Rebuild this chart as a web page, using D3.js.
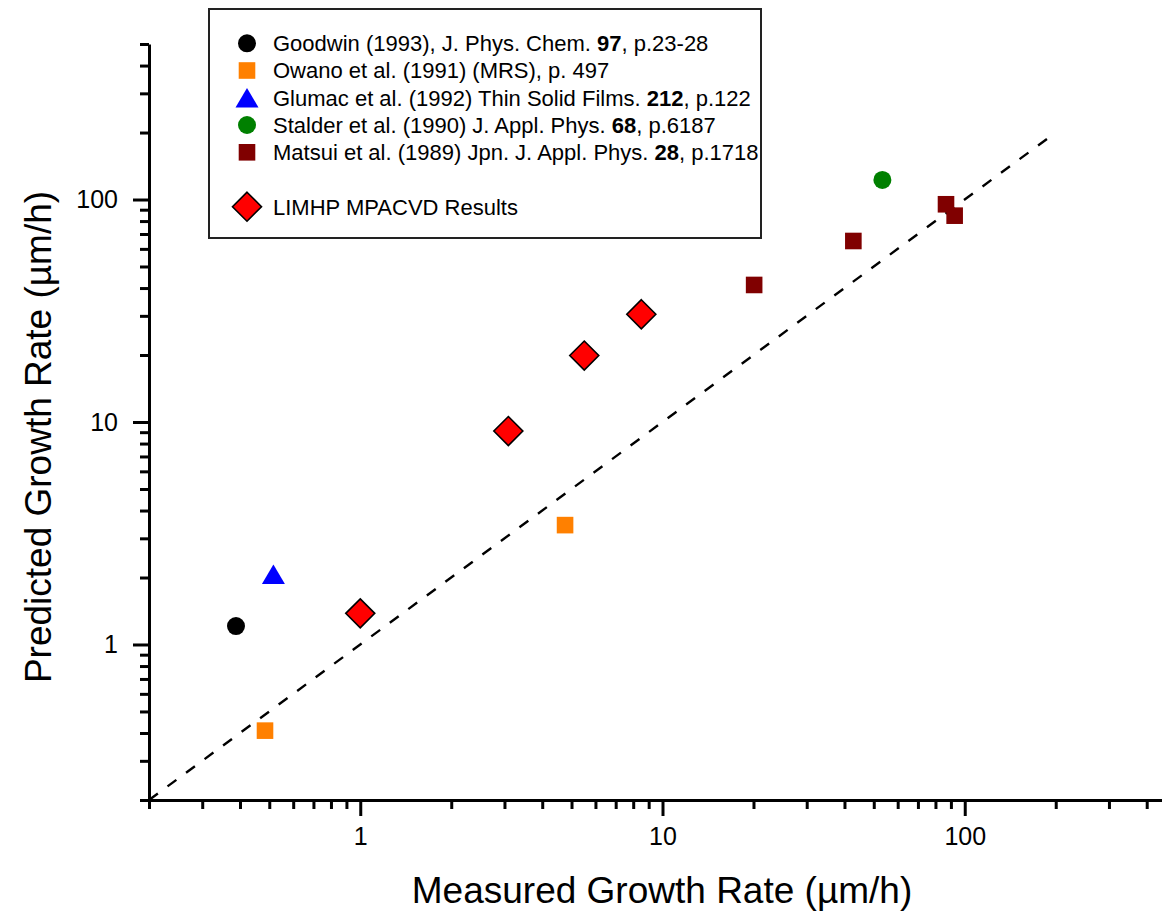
<!DOCTYPE html>
<html>
<head>
<meta charset="utf-8">
<script src="https://cdn.jsdelivr.net/npm/d3@7"></script>
<style>
  html, body { margin: 0; padding: 0; background: #fff; }
  svg { display: block; font-family: "Liberation Sans", Arial, sans-serif; }
</style>
</head>
<body>
<svg id="chart" width="1162" height="918"></svg>
<script>
// Measured vs. predicted diamond growth rates (µm/h)
const goodwinX = [0.388];
const goodwinY = [1.21];
const owanoX = [0.484, 4.76];
const owanoY = [0.41, 3.44];
const glumacX = [0.516];
const glumacY = [2.07];
const stalderX = [53.4];
const stalderY = [122.4];
const matsuiX = [20.1, 42.8, 86.7, 92.6];
const matsuiY = [41.3, 65.1, 95.2, 84.6];
const limhpX = [1.0, 3.09, 5.51, 8.51];
const limhpY = [1.38, 9.11, 19.9, 30.5];

const parityLine = [0.2, 200];          // y = x reference
const majorTicks = [1, 10, 100];
const minorTicks = [0.2, 0.3, 0.4, 0.5, 0.6, 0.7, 0.8, 0.9,
                    2, 3, 4, 5, 6, 7, 8, 9,
                    20, 30, 40, 50, 60, 70, 80, 90,
                    200, 300, 400, 500];

const legendEntries = [
  { key: "goodwin", parts: [["Goodwin (1993), J. Phys. Chem. ", false], ["97", true], [", p.23-28", false]] },
  { key: "owano",   parts: [["Owano et al. (1991) (MRS), p. 497", false]] },
  { key: "glumac",  parts: [["Glumac et al. (1992) Thin Solid Films. ", false], ["212", true], [", p.122", false]] },
  { key: "stalder", parts: [["Stalder et al. (1990) J. Appl. Phys. ", false], ["68", true], [", p.6187", false]] },
  { key: "matsui",  parts: [["Matsui et al. (1989) Jpn. J. Appl. Phys. ", false], ["28", true], [", p.1718", false]] },
  { key: "limhp",   parts: [["LIMHP MPACVD Results", false]] }
];

const svg = d3.select("#chart");

const x = d3.scaleLog().domain([0.2, 500]).range([149, 1176]);
const y = d3.scaleLog().domain([0.2, 500]).range([800, 44]);

// marker drawers
const styles = {
  goodwin: { shape: "circle",   fill: "#000000" },
  owano:   { shape: "square",   fill: "#FF8000" },
  glumac:  { shape: "triangle", fill: "#0000FF" },
  stalder: { shape: "circle",   fill: "#008000" },
  matsui:  { shape: "square",   fill: "#800000" },
  limhp:   { shape: "diamond",  fill: "#FF0000" }
};

function drawMarker(g, shape, fill, cx, cy) {
  if (shape === "circle") {
    g.append("circle").attr("cx", cx).attr("cy", cy).attr("r", 9).attr("fill", fill);
  } else if (shape === "square") {
    g.append("rect").attr("x", cx - 8.3).attr("y", cy - 8.3)
      .attr("width", 16.6).attr("height", 16.6).attr("fill", fill);
  } else if (shape === "triangle") {
    g.append("path")
      .attr("d", `M${cx},${cy - 9.7}L${cx + 11.5},${cy + 9.7}L${cx - 11.5},${cy + 9.7}Z`)
      .attr("fill", fill);
  } else if (shape === "diamond") {
    g.append("path")
      .attr("d", `M${cx},${cy - 14.5}L${cx + 14.5},${cy}L${cx},${cy + 14.5}L${cx - 14.5},${cy}Z`)
      .attr("fill", fill).attr("stroke", "#000").attr("stroke-width", 1.6)
      .attr("stroke-linejoin", "miter");
  }
}

// dashed parity line
svg.append("line")
  .attr("x1", x(parityLine[0])).attr("y1", y(parityLine[0]))
  .attr("x2", x(parityLine[1])).attr("y2", y(parityLine[1]))
  .attr("stroke", "#000").attr("stroke-width", 2.4)
  .attr("stroke-dasharray", "11,12");

// axes: minor ticks, then major ticks with labels
function styleAxis(g) {
  g.selectAll("path.domain").attr("stroke", "#000").attr("stroke-width", 3);
  g.selectAll(".tick line").attr("stroke", "#000").attr("stroke-width", 3);
}

const xMinor = svg.append("g").attr("transform", "translate(0,800)")
  .call(d3.axisBottom(x).tickValues(minorTicks).tickSize(9).tickSizeOuter(0).tickFormat(""));
styleAxis(xMinor);
const xMajor = svg.append("g").attr("transform", "translate(0,800)")
  .call(d3.axisBottom(x).tickValues(majorTicks).tickSize(16).tickSizeOuter(0).tickFormat(d3.format("d")));
styleAxis(xMajor);
xMajor.select("path.domain").remove();
xMajor.selectAll(".tick text").attr("font-size", 25).attr("fill", "#000")
  .attr("font-family", "Liberation Sans, Arial, sans-serif").attr("y", 27);

const yMinor = svg.append("g").attr("transform", "translate(149,0)")
  .call(d3.axisLeft(y).tickValues(minorTicks).tickSize(9).tickSizeOuter(0).tickFormat(""));
styleAxis(yMinor);
const yMajor = svg.append("g").attr("transform", "translate(149,0)")
  .call(d3.axisLeft(y).tickValues(majorTicks).tickSize(16).tickSizeOuter(0).tickFormat(d3.format("d")));
styleAxis(yMajor);
yMajor.select("path.domain").remove();
yMajor.selectAll(".tick text").attr("font-size", 25).attr("fill", "#000")
  .attr("font-family", "Liberation Sans, Arial, sans-serif").attr("x", -31);

// axis titles
svg.append("text")
  .attr("x", 662).attr("y", 903)
  .attr("text-anchor", "middle").attr("font-size", 37).attr("fill", "#000")
  .text("Measured Growth Rate (µm/h)");
svg.append("text")
  .attr("transform", "translate(51,437) rotate(-90)")
  .attr("text-anchor", "middle").attr("font-size", 37).attr("fill", "#000")
  .text("Predicted Growth Rate (µm/h)");

// data points
const series = [
  ["goodwin", goodwinX, goodwinY],
  ["owano", owanoX, owanoY],
  ["glumac", glumacX, glumacY],
  ["stalder", stalderX, stalderY],
  ["matsui", matsuiX, matsuiY],
  ["limhp", limhpX, limhpY]
];
const pts = svg.append("g");
series.forEach(([key, xs, ys]) => {
  xs.forEach((v, i) => drawMarker(pts, styles[key].shape, styles[key].fill, x(v), y(ys[i])));
});

// legend
const legend = svg.append("g");
legend.append("rect")
  .attr("x", 209).attr("y", 9).attr("width", 552).attr("height", 229)
  .attr("fill", "#fff").attr("stroke", "#222").attr("stroke-width", 2);
const rowY = [43.3, 70.5, 97.7, 125, 152.3, 206.7];
legendEntries.forEach((e, i) => {
  const st = styles[e.key];
  drawMarker(legend, st.shape, st.fill, 247, rowY[i]);
  const t = legend.append("text")
    .attr("x", 273).attr("y", rowY[i] + 7.8)
    .attr("font-size", 22).attr("fill", "#000");
  e.parts.forEach(([s, bold]) => {
    t.append("tspan").attr("font-weight", bold ? "bold" : "normal").text(s);
  });
});
</script>
</body>
</html>
